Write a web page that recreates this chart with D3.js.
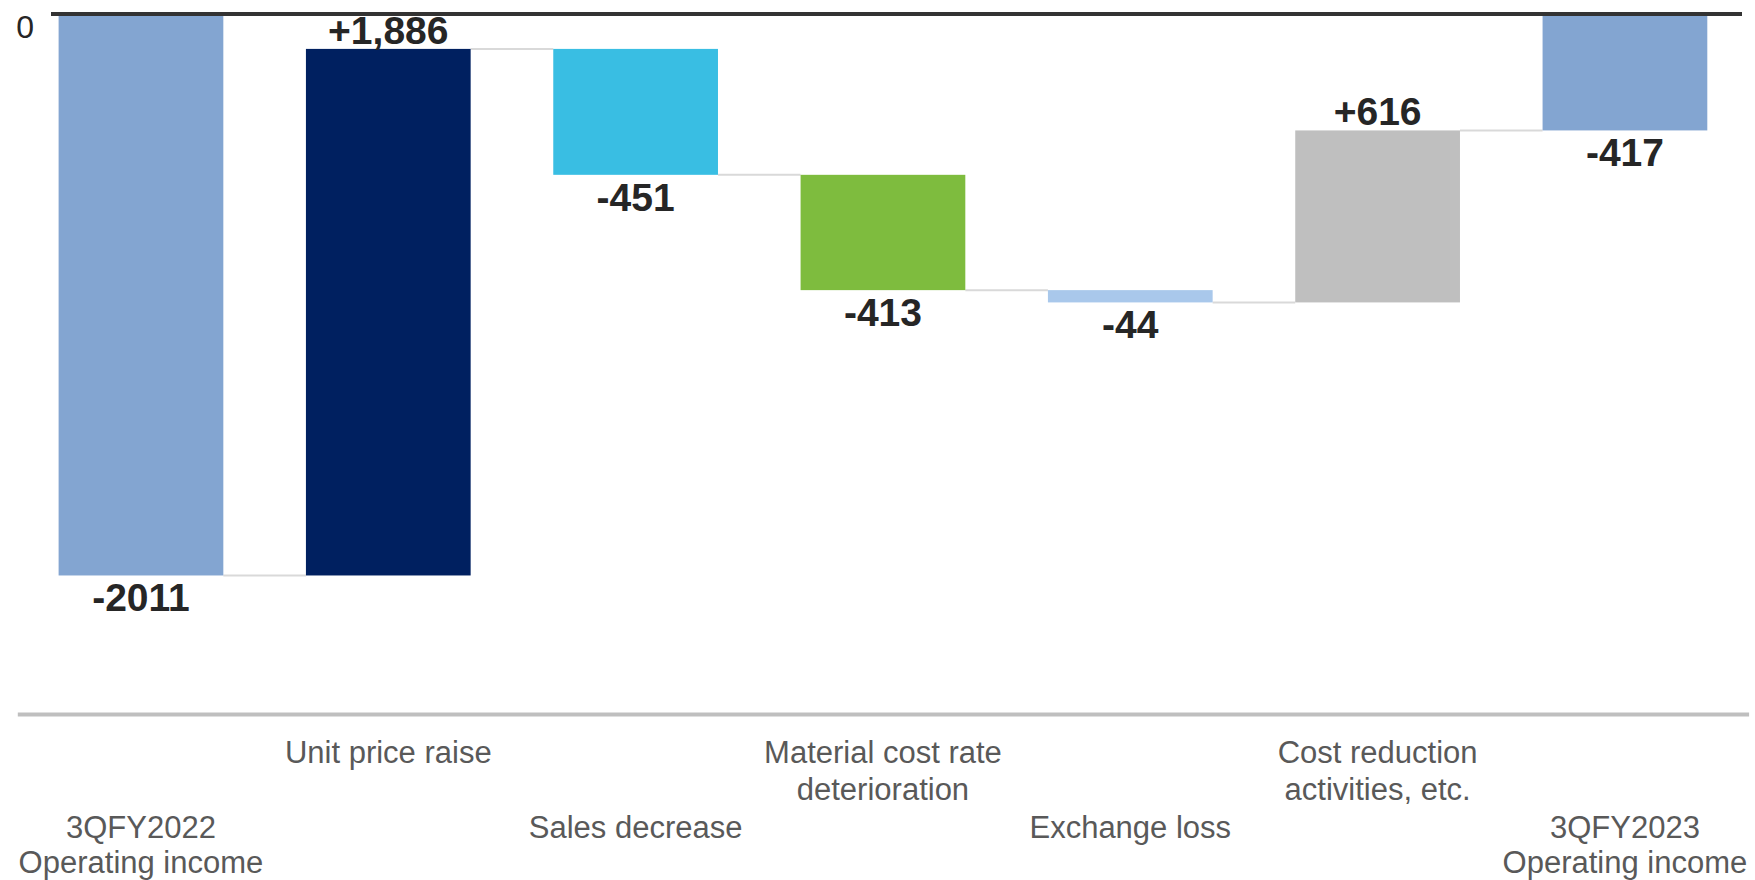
<!DOCTYPE html>
<html>
<head>
<meta charset="utf-8">
<script src="https://cdn.jsdelivr.net/npm/d3@7"></script>
<style>
  html, body { margin: 0; padding: 0; background: #ffffff; }
  svg { display: block; }
  text { font-family: "Liberation Sans", Arial, sans-serif; }
</style>
</head>
<body>
<svg id="chart" width="1755" height="880"></svg>
<script>
// ---- data ----
const categories = [
  ["3QFY2022", "Operating income"],
  ["Unit price raise"],
  ["Sales decrease"],
  ["Material cost rate", "deterioration"],
  ["Exchange loss"],
  ["Cost reduction", "activities, etc."],
  ["3QFY2023", "Operating income"]
];
const values = [-2011, 1886, -451, -413, -44, 616, -417];
const kinds = ["total", "delta", "delta", "delta", "delta", "delta", "total"];
const valueLabels = ["-2011", "+1,886", "-451", "-413", "-44", "+616", "-417"];
const barColors = ["#83a5d1", "#002060", "#39bee3", "#7ebc3e", "#a9c8eb", "#bfbfbf", "#83a5d1"];
const yDomain = [-2500, 0];
const yTicks = [0];

// ---- computed waterfall ----
let running = 0;
const bars = values.map((v, i) => {
  let start, end;
  if (kinds[i] === "total") { start = 0; end = v; running = v; }
  else { start = running; end = running + v; running = end; }
  return { i, cat: categories[i], v, start, end, label: valueLabels[i], color: barColors[i] };
});

const svg = d3.select("#chart");

const x = d3.scaleBand()
  .domain(d3.range(categories.length))
  .range([17.3, 1748.6])
  .paddingInner(0.334)
  .paddingOuter(0.167);

const y = d3.scaleLinear().domain(yDomain).range([712, 14]);

// connectors
const conn = svg.append("g");
for (let k = 0; k < bars.length - 1; k++) {
  const b = bars[k];
  const yy = y(b.end);
  conn.append("line")
    .attr("x1", x(k) + x.bandwidth())
    .attr("x2", x(k + 1))
    .attr("y1", yy).attr("y2", yy)
    .attr("stroke", "#d9d9d9").attr("stroke-width", 2);
}

// bars
svg.append("g").selectAll("rect").data(bars).join("rect")
  .attr("x", d => x(d.i))
  .attr("width", x.bandwidth())
  .attr("y", d => y(Math.max(d.start, d.end)))
  .attr("height", d => Math.abs(y(d.start) - y(d.end)))
  .attr("fill", d => d.color);

// value labels
svg.append("g").selectAll("text").data(bars).join("text")
  .attr("x", d => x(d.i) + x.bandwidth() / 2)
  .attr("y", d => d.v < 0 ? y(Math.min(d.start, d.end)) + 36 : y(Math.max(d.start, d.end)) - 5)
  .attr("text-anchor", "middle")
  .style("font-size", "39px")
  .style("font-weight", "bold")
  .attr("fill", "#262626")
  .text(d => d.label);

// zero line
svg.append("line")
  .attr("x1", 51).attr("x2", 1742)
  .attr("y1", y(0)).attr("y2", y(0))
  .attr("stroke", "#333333").attr("stroke-width", 4);

// y axis (0 tick only)
const yAxis = svg.append("g")
  .attr("transform", "translate(40,0)")
  .call(d3.axisLeft(y).tickValues(yTicks).tickSize(0).tickPadding(6).tickFormat(d3.format("d")));
yAxis.select(".domain").remove();
yAxis.selectAll("text")
  .attr("dy", "0.73em")
  .style("font-size", "32px")
  .style("font-family", "'Liberation Sans', Arial, sans-serif")
  .attr("fill", "#262626");

// category axis
const xAxis = svg.append("g")
  .attr("transform", `translate(0,${y(yDomain[0]) + 2})`)
  .call(d3.axisBottom(x).tickSize(0).tickSizeOuter(0).tickFormat(""));
xAxis.select(".domain").attr("stroke", "#bfbfbf").attr("stroke-width", 4);
xAxis.selectAll(".tick text").each(function(d) {
  const t = d3.select(this);
  const upper = d % 2 === 1;
  t.text(null)
    .attr("y", upper ? 49 : 124)
    .attr("dy", 0)
    .style("font-size", "31px")
    .style("font-family", "'Liberation Sans', Arial, sans-serif")
    .attr("fill", "#595959")
    .attr("text-anchor", "middle");
  categories[d].forEach((line, j) => {
    t.append("tspan").attr("x", 0).attr("dy", j === 0 ? 0 : (upper ? 37 : 35)).text(line);
  });
});
</script>
</body>
</html>
